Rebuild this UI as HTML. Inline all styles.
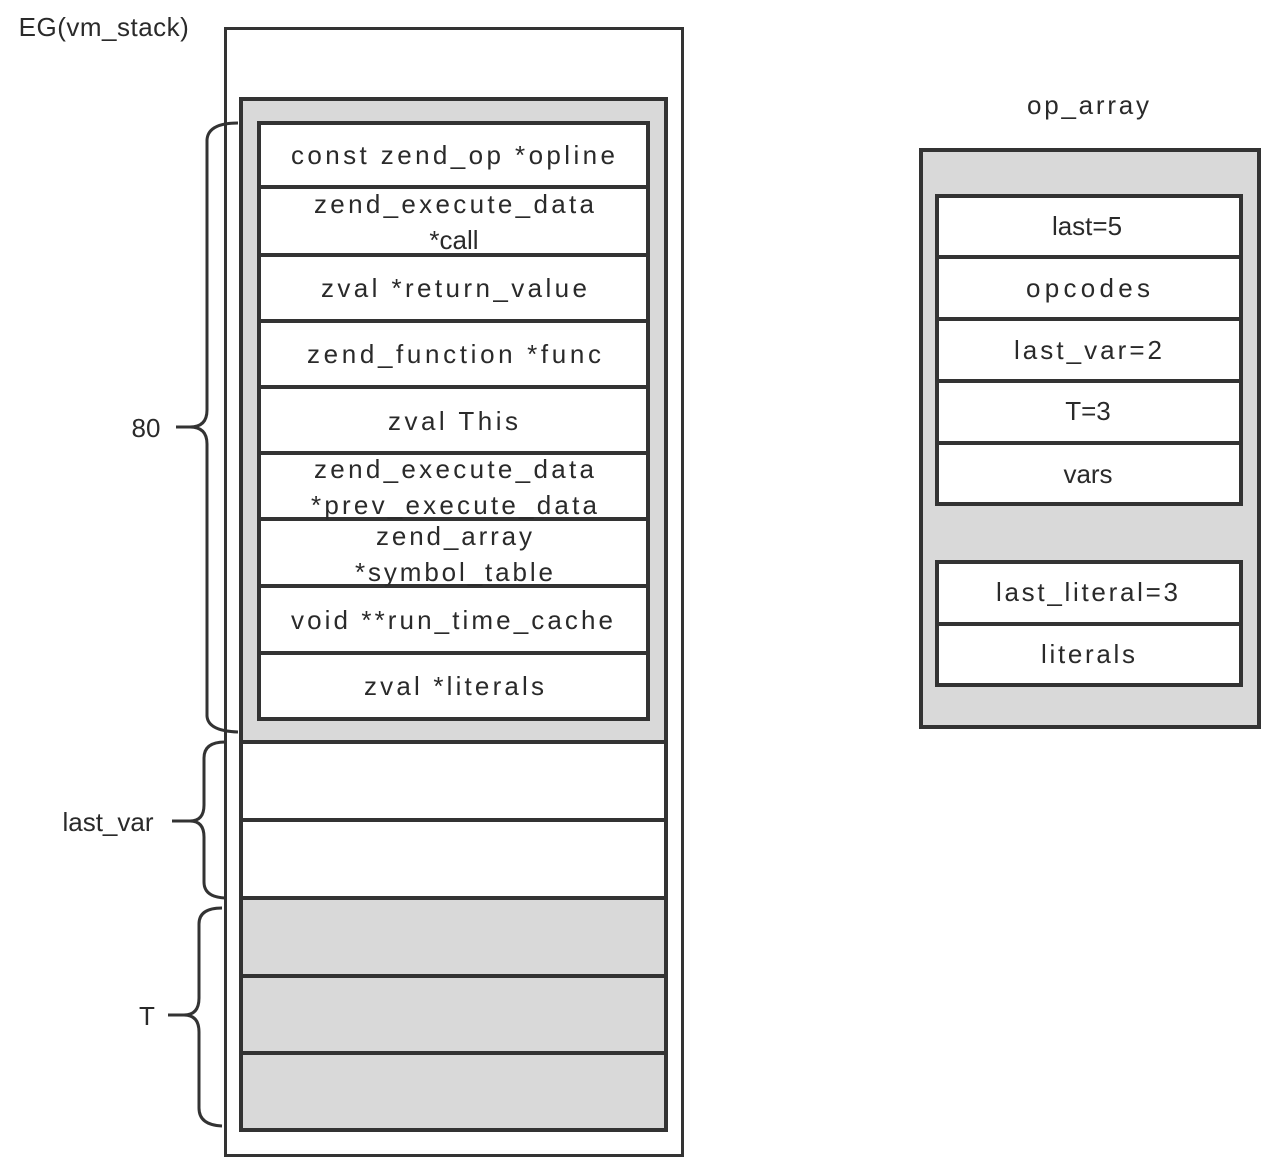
<!DOCTYPE html>
<html><head><meta charset="utf-8"><style>
html,body{margin:0;padding:0;background:#fff;}
svg{display:block;}
text{font-family:"Liberation Sans",sans-serif;font-size:26px;fill:#2a2a2a;text-anchor:middle;}
</style></head><body>
<svg width="1280" height="1172" viewBox="0 0 1280 1172" xmlns="http://www.w3.org/2000/svg">
<g stroke="#333" fill="none">
<!-- outer stack -->
<rect x="225.5" y="28.5" width="457" height="1127" stroke-width="3"/>
<rect x="241" y="99" width="425" height="1031" fill="#d9d9d9" stroke-width="4"/>
<rect x="241" y="742" width="425" height="156" fill="#fff" stroke-width="4"/>
<line x1="241" y1="820" x2="666" y2="820" stroke-width="4"/>
<line x1="241" y1="976" x2="666" y2="976" stroke-width="4"/>
<line x1="241" y1="1053" x2="666" y2="1053" stroke-width="4"/>
<rect x="259" y="123" width="389" height="596" fill="#fff" stroke-width="4"/>
<g stroke-width="4">
<line x1="259" y1="187" x2="648" y2="187"/>
<line x1="259" y1="255" x2="648" y2="255"/>
<line x1="259" y1="321" x2="648" y2="321"/>
<line x1="259" y1="387" x2="648" y2="387"/>
<line x1="259" y1="453" x2="648" y2="453"/>
<line x1="259" y1="519" x2="648" y2="519"/>
<line x1="259" y1="586" x2="648" y2="586"/>
<line x1="259" y1="653" x2="648" y2="653"/>
</g>
<!-- braces -->
<g stroke-width="3">
<path d="M238,123 Q208,123 207,140 L207,410 Q207,427 190,427 L176,427 M190,427 Q207,427 207,444 L207,716 Q208,731 238,732"/>
<path d="M225,742 Q204,742 204,758 L204,805 Q204,821 190,821 L172,821 M190,821 Q204,821 204,837 L204,882 Q204,897 225,898"/>
<path d="M222,908 Q199,908 199,924 L199,998 Q199,1015 184,1015 L168,1015 M184,1015 Q199,1015 199,1032 L199,1108 Q199,1125 222,1126"/>
</g>
<!-- op_array -->
<rect x="921" y="150" width="338" height="577" fill="#d9d9d9" stroke-width="4"/>
<rect x="937" y="196" width="304" height="308" fill="#fff" stroke-width="4"/>
<g stroke-width="4">
<line x1="937" y1="257" x2="1241" y2="257"/>
<line x1="937" y1="319" x2="1241" y2="319"/>
<line x1="937" y1="381" x2="1241" y2="381"/>
<line x1="937" y1="443" x2="1241" y2="443"/>
</g>
<rect x="937" y="562" width="304" height="123" fill="#fff" stroke-width="4"/>
<line x1="937" y1="624" x2="1241" y2="624" stroke-width="4"/>
</g>
<text x="104" y="36" style="letter-spacing:0.5px">EG(vm_stack)</text>
<text x="146" y="437">80</text>
<text x="108" y="831">last_var</text>
<text x="147" y="1025">T</text>
<text x="453" y="164" textLength="324" lengthAdjust="spacing">const zend_op *opline</text>
<text x="454" y="213" textLength="280" lengthAdjust="spacing">zend_execute_data</text>
<text x="454" y="249">*call</text>
<text x="454" y="297" textLength="266" lengthAdjust="spacing">zval  *return_value</text>
<text x="454" y="363" textLength="294" lengthAdjust="spacing">zend_function *func</text>
<text x="453" y="430" textLength="130" lengthAdjust="spacing">zval  This</text>
<text x="454" y="478" textLength="280" lengthAdjust="spacing">zend_execute_data</text>
<text x="454" y="514" textLength="286" lengthAdjust="spacing">*prev_execute_data</text>
<text x="454" y="545" textLength="156" lengthAdjust="spacing">zend_array</text>
<text x="454" y="581" textLength="198" lengthAdjust="spacing">*symbol_table</text>
<text x="452" y="629" textLength="322" lengthAdjust="spacing">void **run_time_cache</text>
<text x="454" y="695" textLength="180" lengthAdjust="spacing">zval  *literals</text>
<text x="1088" y="114" textLength="122" lengthAdjust="spacing">op_array</text>
<text x="1087" y="235">last=5</text>
<text x="1088" y="297" textLength="124" lengthAdjust="spacing">opcodes</text>
<text x="1088" y="359" textLength="148" lengthAdjust="spacing">last_var=2</text>
<text x="1088" y="420">T=3</text>
<text x="1088" y="483">vars</text>
<text x="1087" y="601" textLength="182" lengthAdjust="spacing">last_literal=3</text>
<text x="1088" y="663" textLength="94" lengthAdjust="spacing">literals</text>
</svg>
</body></html>
